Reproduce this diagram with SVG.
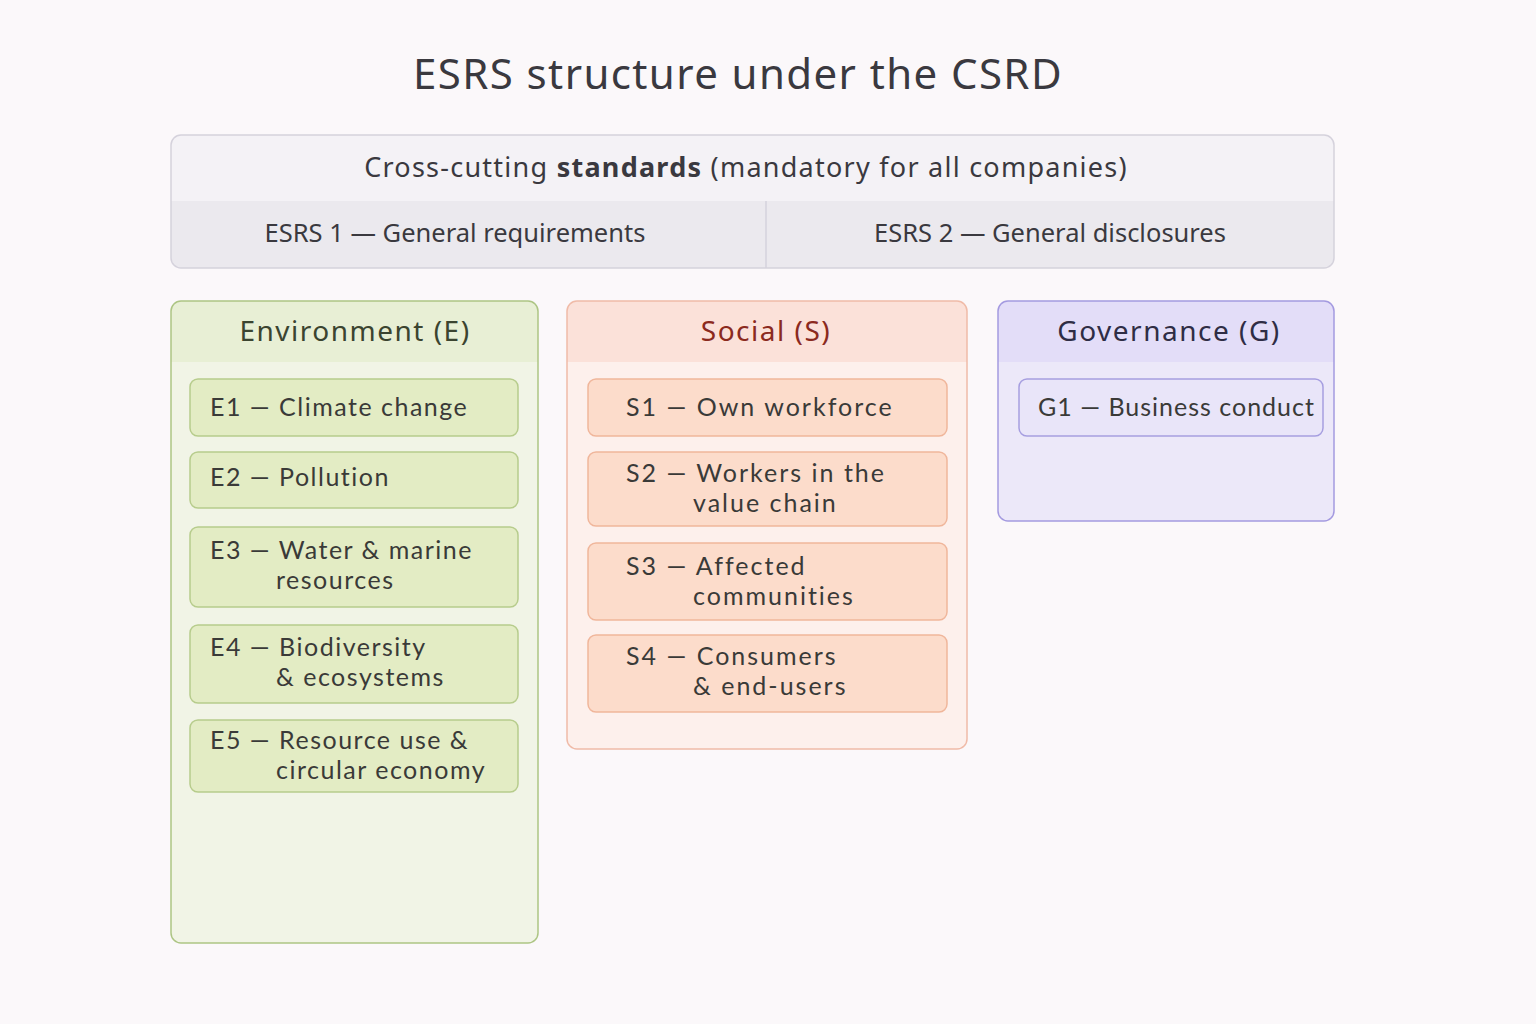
<svg xmlns="http://www.w3.org/2000/svg" width="1536" height="1024" viewBox="0 0 1536 1024">
<style>
text{font-family:"Noto Sans","Open Sans","Liberation Sans",sans-serif;}
.title{font-size:42px;fill:#3a393f;text-anchor:middle;letter-spacing:1.4px;}
.hdr{font-size:27px;fill:#3a393f;text-anchor:middle;letter-spacing:1.25px;}
.sub{font-size:25.5px;fill:#3a393f;text-anchor:middle;}
.cat{font-size:28px;text-anchor:middle;letter-spacing:1.5px;}
.item{font-family:Lato,"Noto Sans",sans-serif;font-size:25px;fill:#3a3a38;letter-spacing:1.5px;}
.sit{letter-spacing:2px;}
.eBox{fill:#e3ecc4;stroke:#b7cc8c;stroke-width:1.5;}
.sBox{fill:#fcdccb;stroke:#f0b69b;stroke-width:1.5;}
.gBox{fill:#e9e5f9;stroke:#a69ee0;stroke-width:1.5;}
</style>
<rect width="1536" height="1024" fill="#fbf8fa"/>
<text class="title" x="738" y="89">ESRS structure under the CSRD</text>

<g id="cross-cutting">
<rect x="171" y="135" width="1163" height="133" rx="10" fill="#ebe9ee"/>
<path d="M171 201 V145 a10 10 0 0 1 10 -10 H1324 a10 10 0 0 1 10 10 V201 Z" fill="#f4f2f6"/>
<rect x="171" y="135" width="1163" height="133" rx="10" fill="none" stroke="#d5d2dc" stroke-width="1.5"/>
<line x1="766" y1="201" x2="766" y2="268" stroke="#d5d2dc" stroke-width="1.5"/>
<text class="hdr" x="746" y="177">Cross-cutting <tspan font-weight="bold">standards</tspan> (mandatory for all companies)</text>
<text class="sub" x="455" y="242">ESRS 1 — General requirements</text>
<text class="sub" x="1050" y="242">ESRS 2 — General disclosures</text>
</g>

<g id="environment">
<rect x="171" y="301" width="367" height="642" rx="10" fill="#f1f4e6"/>
<path d="M171 362 V311 a10 10 0 0 1 10 -10 H528 a10 10 0 0 1 10 10 V362 Z" fill="#e8efd5"/>
<rect x="171" y="301" width="367" height="642" rx="10" fill="none" stroke="#adc584" stroke-width="1.5"/>
<text class="cat" x="355" y="341" fill="#3b4430">Environment (E)</text>
</g>
<g id="E1"><rect class="eBox" x="190" y="379" width="328" height="57" rx="8"/><text class="item" x="210" y="416">E1 — Climate change</text></g>
<g id="E2"><rect class="eBox" x="190" y="452" width="328" height="56" rx="8"/><text class="item" x="210" y="486">E2 — Pollution</text></g>
<g id="E3"><rect class="eBox" x="190" y="527" width="328" height="80" rx="8"/><text class="item" x="210" y="559">E3 — Water &amp; marine</text><text class="item" x="276" y="589">resources</text></g>
<g id="E4"><rect class="eBox" x="190" y="625" width="328" height="78" rx="8"/><text class="item" x="210" y="656">E4 — Biodiversity</text><text class="item" x="276" y="686">&amp; ecosystems</text></g>
<g id="E5"><rect class="eBox" x="190" y="720" width="328" height="72" rx="8"/><text class="item" x="210" y="749">E5 — Resource use &amp;</text><text class="item" x="276" y="779">circular economy</text></g>

<g id="social">
<rect x="567" y="301" width="400" height="448" rx="10" fill="#fdf0ec"/>
<path d="M567 362 V311 a10 10 0 0 1 10 -10 H957 a10 10 0 0 1 10 10 V362 Z" fill="#fbe1d9"/>
<rect x="567" y="301" width="400" height="448" rx="10" fill="none" stroke="#f0bba8" stroke-width="1.5"/>
<text class="cat" x="766" y="341" fill="#8b2a1e">Social (S)</text>
</g>
<g id="S1"><rect class="sBox" x="588" y="379" width="359" height="57" rx="8"/><text class="item sit" x="626" y="416">S1 — Own workforce</text></g>
<g id="S2"><rect class="sBox" x="588" y="452" width="359" height="74" rx="8"/><text class="item sit" x="626" y="482">S2 — Workers in the</text><text class="item sit" x="693" y="512">value chain</text></g>
<g id="S3"><rect class="sBox" x="588" y="543" width="359" height="77" rx="8"/><text class="item sit" x="626" y="575">S3 — Affected</text><text class="item sit" x="693" y="605">communities</text></g>
<g id="S4"><rect class="sBox" x="588" y="635" width="359" height="77" rx="8"/><text class="item sit" x="626" y="665">S4 — Consumers</text><text class="item sit" x="693" y="695">&amp; end-users</text></g>

<g id="governance">
<rect x="998" y="301" width="336" height="220" rx="10" fill="#ece8f9"/>
<path d="M998 362 V311 a10 10 0 0 1 10 -10 H1324 a10 10 0 0 1 10 10 V362 Z" fill="#e3ddf8"/>
<rect x="998" y="301" width="336" height="220" rx="10" fill="none" stroke="#a49ae0" stroke-width="1.5"/>
<text class="cat" x="1169" y="341" fill="#2f2d45">Governance (G)</text>
</g>
<g id="G1"><rect class="gBox" x="1019" y="379" width="304" height="57" rx="8"/><text class="item" x="1038" y="416" style="letter-spacing:1px">G1 — Business conduct</text></g>

<g id="connectors"></g>
</svg>
